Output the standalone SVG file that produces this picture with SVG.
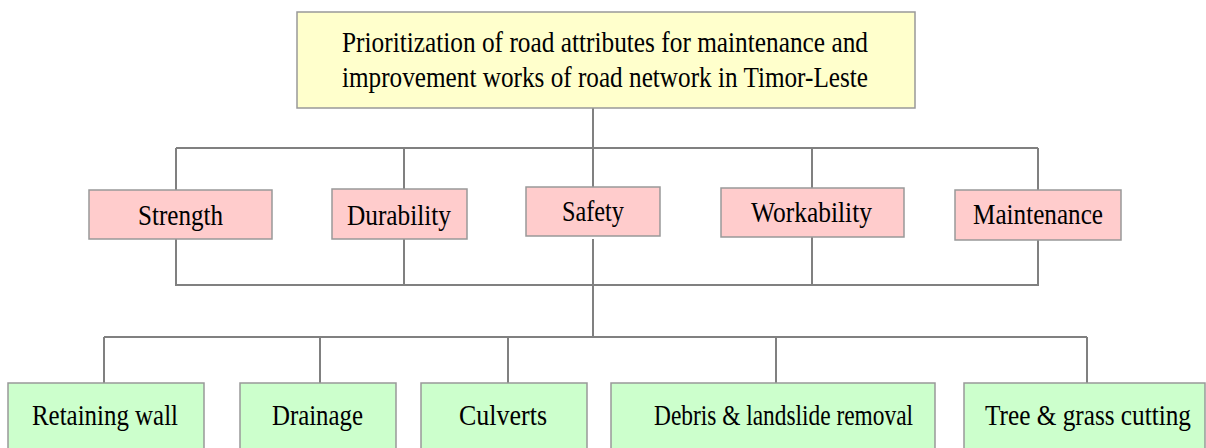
<svg xmlns="http://www.w3.org/2000/svg" width="1206" height="448" viewBox="0 0 1206 448">
<style>
.line{stroke:#808080;stroke-width:2;fill:none}
.box{stroke:#999999;stroke-width:1.5}
.top{fill:#FFFFCC}
.mid{fill:#FFCCCC}
.bot{fill:#CCFFCC}
.t{font-family:"Liberation Serif","Times New Roman","DejaVu Serif",serif;fill:#000;font-size:30px}
</style>
<rect width="1206" height="448" fill="#fff"/>
<g id="connectors">
<path class="line" d="M593,108 V187 M176,148 H1038 M176,148 V190 M404,148 V189 M812,148 V188 M1038,148 V190"/>
<path class="line" d="M176,239 V285 H1038 V240 M404,239 V285 M812,237 V285"/>
<path class="line" d="M593,239 V337 M104,337 H1087 M104,337 V383 M320,337 V383 M508,337 V383 M776,337 V383 M1087,337 V383"/>
</g>
<g id="root">
<rect class="box top" x="297" y="12" width="618" height="96"/>
<text class="t" x="342" y="52" font-size="28" textLength="526" lengthAdjust="spacingAndGlyphs">Prioritization of road attributes for maintenance and</text>
<text class="t" x="342" y="87" font-size="28" textLength="526" lengthAdjust="spacingAndGlyphs">improvement works of road network in Timor-Leste</text>
</g>
<g id="strength">
<rect class="box mid" x="89" y="190" width="183" height="49"/>
<text class="t" x="138" y="225" textLength="85" lengthAdjust="spacingAndGlyphs">Strength</text>
</g>
<g id="durability">
<rect class="box mid" x="332" y="189" width="135" height="50"/>
<text class="t" x="347" y="225" textLength="104" lengthAdjust="spacingAndGlyphs">Durability</text>
</g>
<g id="safety">
<rect class="box mid" x="526" y="187" width="134" height="49"/>
<text class="t" x="562" y="221" textLength="62" lengthAdjust="spacingAndGlyphs">Safety</text>
</g>
<g id="workability">
<rect class="box mid" x="721" y="188" width="183" height="49"/>
<text class="t" x="751" y="222" textLength="121" lengthAdjust="spacingAndGlyphs">Workability</text>
</g>
<g id="maintenance">
<rect class="box mid" x="955" y="190" width="166" height="50"/>
<text class="t" x="973" y="224" textLength="130" lengthAdjust="spacingAndGlyphs">Maintenance</text>
</g>
<g id="retaining-wall">
<rect class="box bot" x="8" y="383" width="196" height="80"/>
<text class="t" x="32" y="425" textLength="146" lengthAdjust="spacingAndGlyphs">Retaining wall</text>
</g>
<g id="drainage">
<rect class="box bot" x="240" y="383" width="156" height="80"/>
<text class="t" x="272" y="425" textLength="91" lengthAdjust="spacingAndGlyphs">Drainage</text>
</g>
<g id="culverts">
<rect class="box bot" x="421" y="383" width="166" height="80"/>
<text class="t" x="459" y="425" textLength="88" lengthAdjust="spacingAndGlyphs">Culverts</text>
</g>
<g id="debris">
<rect class="box bot" x="611" y="383" width="324" height="80"/>
<text class="t" x="654" y="425" textLength="259" lengthAdjust="spacingAndGlyphs">Debris &amp; landslide removal</text>
</g>
<g id="tree">
<rect class="box bot" x="964" y="383" width="241" height="80"/>
<text class="t" x="985" y="425" textLength="206" lengthAdjust="spacingAndGlyphs">Tree &amp; grass cutting</text>
</g>
</svg>
